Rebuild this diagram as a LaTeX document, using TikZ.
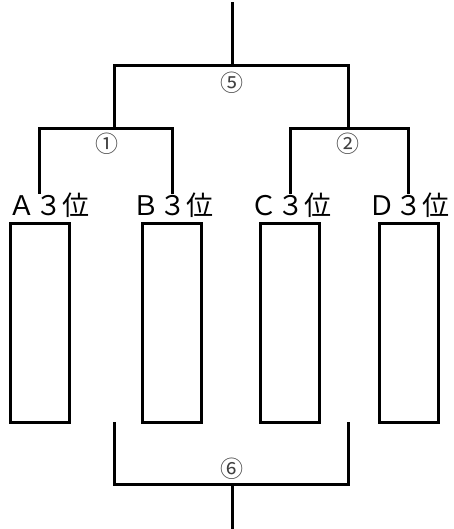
\documentclass[tikz,border=0pt]{standalone}
\usepackage{fontspec}
\setmainfont{Noto Sans CJK JP}
\usepackage{tikz}
\usetikzlibrary{positioning}

\begin{document}
\begin{tikzpicture}[
		x=1pt,y=-1pt,
		line/.style={line width=3pt,line cap=rect},
		slot/.style={draw,line width=3pt,minimum width=59pt,minimum height=199pt,inner sep=0pt},
		team/.style={anchor=north,inner sep=0pt,font=\fontsize{27}{27}\selectfont},
		game/.style={inner sep=0pt,text=black!75,font=\fontsize{23}{23}\selectfont}
		]
		\useasboundingbox (0,0) rectangle (453,529);
		% teams
		\node[team] (labela) at (49,193) {Ａ３位};
		\node[team] (labelb) at (173,193) {Ｂ３位};
		\node[team] (labelc) at (291,193) {Ｃ３位};
		\node[team] (labeld) at (409,193) {Ｄ３位};
		\node[slot] (slota) at (39.5,322.5) {};
		\node[slot] (slotb) at (172,322.5) {};
		\node[slot] (slotc) at (290,322.5) {};
		\node[slot] (slotd) at (408.5,322.5) {};
		% joints
		\coordinate (join1) at (114,129);
		\coordinate (join2) at (348,129);
		\coordinate (join5) at (232,66);
		\coordinate (winner) at (232,4);
		\coordinate (from1) at (114,423);
		\coordinate (from2) at (348,423);
		\coordinate (join6) at (232,484);
		\coordinate (third) at (232,528);
		\draw[line] (slota |- labela.north) |- (join1) -| (slotb |- labelb.north);
		\draw[line] (slotc |- labelc.north) |- (join2) -| (slotd |- labeld.north);
		\draw[line] (join1) |- (join5) -| (join2);
		\draw[line] (join5)--(winner);
		\draw[line] (from1) |- (join6) -| (from2);
		\draw[line] (join6)--(third);
		% game numbers
		\node[game] (game1) at (107,144) {①};
		\node[game] (game2) at (348,144) {②};
		\node[game] (game5) at (232,83) {⑤};
		\node[game] (game6) at (232,469) {⑥};
	\end{tikzpicture}
\end{document}
